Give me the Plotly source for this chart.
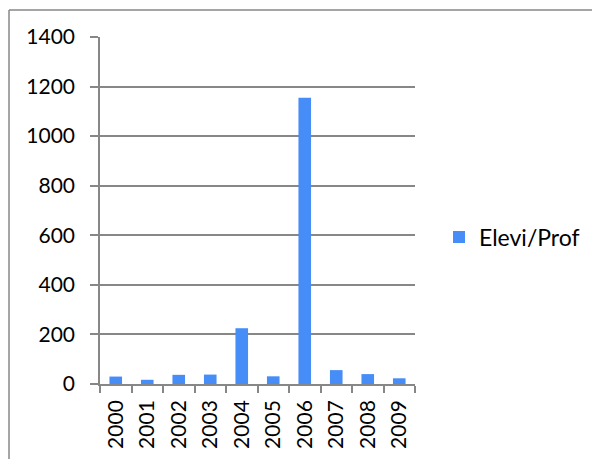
import plotly.graph_objects as go

years = ["2000", "2001", "2002", "2003", "2004", "2005", "2006", "2007", "2008", "2009"]
elevi_prof = [30, 17, 37, 38, 225, 31, 1155, 56, 40, 23]
series_name = "Elevi/Prof"
y_ticks = [0, 200, 400, 600, 800, 1000, 1200, 1400]

W, H = 592, 459
L, R, T, B = 100, 177, 37, 75
pw = W - L - R
ph = H - T - B

def px_x(px):
    return (px - L) / pw

def px_y(py):
    return (H - B - py) / ph

fig = go.Figure()
fig.add_trace(go.Bar(
    x=years, y=elevi_prof, name=series_name,
    marker=dict(color="#468DF7", line=dict(width=0)),
    showlegend=True,
))

font = "Lato, 'Open Sans', sans-serif"
gray = "#878787"

border = dict(color=gray, width=1.5)
fig.update_layout(
    width=W, height=H,
    margin=dict(l=L, r=R, t=T, b=B, autoexpand=False),
    paper_bgcolor="white", plot_bgcolor="white",
    bargap=0.6,
    font=dict(family=font, size=21, color="black"),
    showlegend=True,
    legend=dict(x=px_x(439), y=px_y(237), xanchor="left", yanchor="middle",
                font=dict(family=font, size=23, color="black"),
                bgcolor="rgba(0,0,0,0)", itemwidth=30, tracegroupgap=0),
    xaxis=dict(
        type="category", tickangle=-90, showline=True, linecolor=gray, linewidth=1.5,
        ticks="outside", tickson="boundaries", ticklen=7, tickcolor=gray, tickwidth=1.5,
        showgrid=False, tickfont=dict(family=font, size=21, color="black"),
        ticklabelstandoff=6,
    ),
    yaxis=dict(
        range=[0, 1400], tickvals=y_ticks, showline=True, linecolor=gray, linewidth=1.5,
        ticks="outside", ticklen=8, tickcolor=gray, tickwidth=1.5,
        showgrid=True, gridcolor=gray, gridwidth=1.5, zeroline=False,
        tickfont=dict(family=font, size=21, color="black"),
        ticklabelstandoff=11,
    ),
    shapes=[
        dict(type="line", xref="paper", yref="paper",
             x0=px_x(9), x1=px_x(592), y0=px_y(10), y1=px_y(10), line=border),
        dict(type="line", xref="paper", yref="paper",
             x0=px_x(9), x1=px_x(9), y0=px_y(10), y1=px_y(459), line=border),
    ],
)

fig.write_html("out.html", config={"displayModeBar": False})

with open("out.html", "r", encoding="utf-8") as f:
    html = f.read()
html = html.replace("<head>", "<head><style>html,body{margin:0;padding:0;overflow:hidden;}</style>", 1)
with open("out.html", "w", encoding="utf-8") as f:
    f.write(html)
